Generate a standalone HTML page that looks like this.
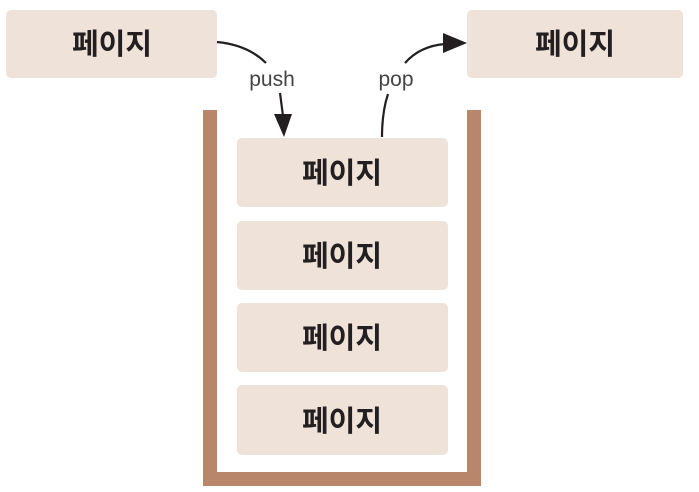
<!DOCTYPE html>
<html><head><meta charset="utf-8"><style>
html,body{margin:0;padding:0;background:#fff;width:699px;height:492px;overflow:hidden}
svg{display:block}
.k{font-family:"Liberation Sans","Noto Sans CJK KR","NanumGothic",sans-serif;font-size:29px;font-weight:bold;fill:#231f20}
.l{font-family:"Liberation Sans",sans-serif;font-size:21px;fill:#444}
</style></head><body>
<svg width="699" height="492" viewBox="0 0 699 492">
<g fill="#efe2d9">
<rect x="6" y="10" width="211" height="68" rx="5"/>
<rect x="467" y="10" width="216" height="68" rx="5"/>
<rect x="237" y="138" width="211" height="69" rx="5"/>
<rect x="237" y="221" width="211" height="69" rx="5"/>
<rect x="237" y="303" width="211" height="69" rx="5"/>
<rect x="237" y="385" width="211" height="70" rx="5"/>
</g>
<g fill="#b8866b">
<rect x="203" y="110" width="14" height="376"/>
<rect x="467" y="110" width="14" height="376"/>
<rect x="203" y="472" width="278" height="14"/>
</g>
<g text-anchor="middle" class="k">
<text x="112" y="54">페이지</text>
<text x="575" y="54">페이지</text>
<text x="342" y="183">페이지</text>
<text x="342" y="266">페이지</text>
<text x="342" y="348">페이지</text>
<text x="342" y="431">페이지</text>
</g>
<text class="l" x="272" y="86" text-anchor="middle">push</text>
<text class="l" x="396" y="86" text-anchor="middle">pop</text>
<g fill="none" stroke="#231f20" stroke-width="2.2">
<path d="M217 42 Q248 45 266 63"/>
<path d="M280 93 L283 116"/>
<path d="M382 137 Q382 112 388 94"/>
<path d="M405 63 Q420 46 445 44"/>
</g>
<g fill="#231f20">
<polygon points="274,114 292,114 284,137"/>
<polygon points="443,33 467,43 443,53"/>
</g>
</svg>
</body></html>
